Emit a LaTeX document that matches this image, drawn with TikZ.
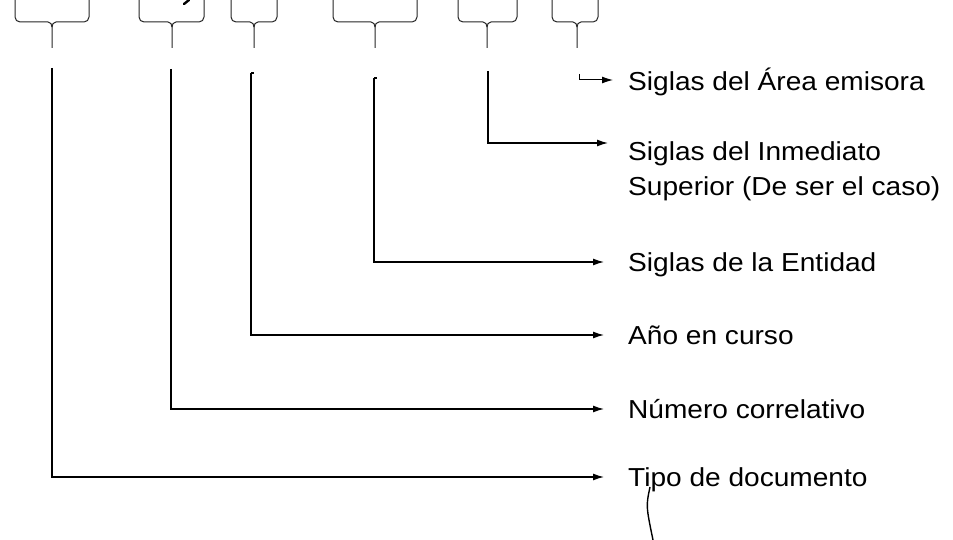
\documentclass[tikz,border=0pt]{standalone}
\usepackage{fontspec}
\setmainfont{Liberation Sans}[FakeStretch=1.08]
\usetikzlibrary{arrows.meta}
\begin{document}
\begin{tikzpicture}[x=1pt,y=-1pt,
  brace/.style={draw=black!85,line width=1pt},
  conn/.style={draw=black,line width=1.3pt,-{Latex[length=11pt,width=7pt]}},
  stem/.style={draw=black,line width=1.3pt},
  lbl/.style={anchor=west,inner sep=0pt,text height=20pt,text depth=2pt,
    font=\fontsize{26}{35}\selectfont}]
\useasboundingbox[fill=white] (0,0) rectangle (953,540);
% braces (upper part cut off by the page edge)
\foreach \L/\T/\R in {15/52/89, 139/172/204, 231/254/277, 333/375/417, 458/487/517, 552/577/598}{
  \draw[brace] (\L,0) -- (\L,17) to[out=-90,in=180] (\L+5,22) -- (\T-4,22)
     to[out=0,in=90] (\T,27) -- (\T,48);
  \draw[brace] (\T,27) to[out=90,in=180] (\T+4,22) -- (\R-5,22)
     to[out=0,in=-90] (\R,17) -- (\R,0);
}
% small stray mark near the second brace
\draw[line width=2.4pt,line cap=round] (189,0) -- (184,4);
% labels
\node[lbl] (area) at (628,82) {Siglas del Área emisora};
\node[lbl] (inm) at (628,152) {Siglas del Inmediato};
\node[lbl] (sup) at (628,187) {Superior (De ser el caso)};
\node[lbl] (ent) at (628,262) {Siglas de la Entidad};
\node[lbl] (ano) at (628,335) {Año en curso};
\node[lbl] (num) at (628,409) {Número correlativo};
\node[lbl] (tipo) at (628,477) {Tipo de documento};
% start points of the connectors
\coordinate (s1) at (52,68);
\coordinate (s2) at (171,69);
\coordinate (s3) at (251,73);
\coordinate (s4) at (374,78);
\coordinate (s5) at (488,71);
\coordinate (s6) at (579,74);
% connectors
\draw[conn,shorten >=24pt] (s1) |- (tipo.west);
\draw[conn,shorten >=24pt] (s2) |- (num.west);
\draw[conn,shorten >=24pt] (s3) |- (ano.west);
\draw[conn,shorten >=24pt] (s4) |- (ent.west);
\draw[conn,shorten >=20pt] (s5) |- ([yshift=9pt]inm.west);
\draw[conn,shorten >=15pt,line width=1pt] (s6) |- ([yshift=2pt]area.west);
\draw[stem] (s3) -- ++(3,0);
\draw[stem] (s4) -- ++(3,0);
% pen stroke below the last label
\coordinate (p0) at (650,487);
\coordinate (p1) at (653,540);
\draw[line width=1.4pt] (p0) .. controls (646,506) .. (p1);
\end{tikzpicture}
\end{document}
